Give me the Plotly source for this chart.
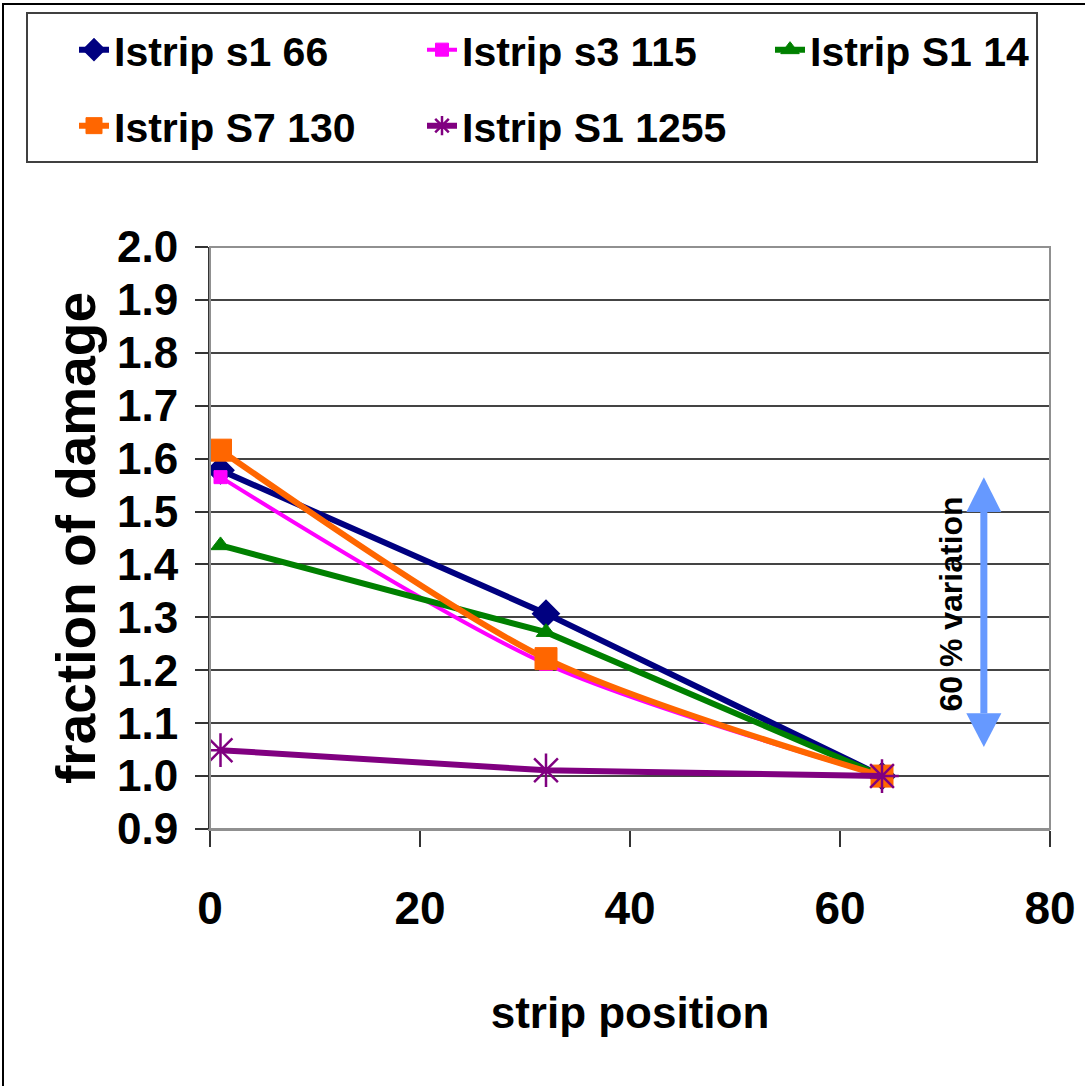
import plotly.graph_objects as go

# ---- data ----
x_pos = [1, 32, 64]
s1_66 = [1.578, 1.307, 1.0]
s3_115 = [1.565, 1.212, 1.0]
S1_14 = [1.436, 1.272, 1.0]
S7_130 = [1.616, 1.222, 1.0]
S1_1255 = [1.049, 1.011, 1.0]
names = ["Istrip s1 66", "Istrip s3 115", "Istrip S1 14", "Istrip S7 130", "Istrip S1 1255"]
y_ticks = [0.9, 1.0, 1.1, 1.2, 1.3, 1.4, 1.5, 1.6, 1.7, 1.8, 1.9, 2.0]
x_ticks = [0, 20, 40, 60, 80]

FONT = "Liberation Sans, Arial, sans-serif"

W, H = 1085, 1086
ML, MR, MT, MB = 210, 35, 247, 257
PW, PH = W - ML - MR, H - MT - MB


def px2paper(px, py):
    return (px - ML) / PW, (H - MB - py) / PH


fig = go.Figure()
styles = [
    (s1_66, "#000080", 6, "diamond", 20, "linear", 2, "legend"),
    (s3_115, "#FF00FF", 4, "square", 13, "spline", 1, "legend"),
    (S1_14, "#008000", 6, "triangle-up", 17, "linear", 1, "legend"),
    (S7_130, "#FF6600", 6, "square", 22, "spline", 1, "legend2"),
    (S1_1255, "#800080", 6, "asterisk-open", 28, "linear", 2.5, "legend2"),
]
for (ys, col, lw, sym, ms, shp, mlw, lg), nm in zip(styles, names):
    fig.add_trace(go.Scatter(
        x=x_pos, y=ys, name=f"<b>{nm}</b>", mode="lines+markers", legend=lg,
        line=dict(color=col, width=lw, shape=shp, smoothing=0.8),
        marker=dict(symbol=sym, size=ms, color=col, line=dict(color=col, width=mlw)),
    ))

shapes = []
# outer border (top and left visible)
x0, y0 = px2paper(3, 4)
x1, y1 = px2paper(1200, 1200)
shapes.append(dict(type="rect", xref="paper", yref="paper", x0=x0, y0=y1, x1=x1, y1=y0,
                   line=dict(color="black", width=2), layer="below"))
# legend box
lx0, ly0 = px2paper(27, 13)
lx1, ly1 = px2paper(1037, 162)
shapes.append(dict(type="rect", xref="paper", yref="paper", x0=lx0, y0=ly1, x1=lx1, y1=ly0,
                   line=dict(color="#404040", width=2)))
# plot area border (right/top gray)
shapes.append(dict(type="rect", xref="paper", yref="paper", x0=0, y0=0, x1=1, y1=1,
                   line=dict(color="#909090", width=2)))

# double arrow (light blue)
ax = 73.7
tip_top, base_top = 1.565, 1.499
tip_bot, base_bot = 1.055, 1.119
hw = 1.67
blue = "#6699FF"
shapes.append(dict(type="line", xref="x", yref="y", x0=ax, x1=ax, y0=base_bot, y1=base_top,
                   line=dict(color=blue, width=7)))
shapes.append(dict(type="path", xref="x", yref="y",
                   path=f"M{ax-hw},{base_top} L{ax+hw},{base_top} L{ax},{tip_top} Z",
                   fillcolor=blue, line=dict(color=blue, width=0)))
shapes.append(dict(type="path", xref="x", yref="y",
                   path=f"M{ax-hw},{base_bot} L{ax+hw},{base_bot} L{ax},{tip_bot} Z",
                   fillcolor=blue, line=dict(color=blue, width=0)))

leg_x = (74 - ML) / PW
common_leg = dict(
    orientation="h", x=leg_x, xanchor="left", yanchor="middle",
    font=dict(family=FONT, size=41, color="black"),
    entrywidth=303, entrywidthmode="pixels",
    bgcolor="rgba(0,0,0,0)", borderwidth=0, itemsizing="trace",
)

fig.update_layout(
    width=W, height=H,
    margin=dict(l=ML, r=MR, t=MT, b=MB, pad=0, autoexpand=False),
    paper_bgcolor="white", plot_bgcolor="white",
    shapes=shapes,
    showlegend=True,
    legend=dict(common_leg, y=(H - MB - 50) / PH),
    legend2=dict(common_leg, y=(H - MB - 126) / PH),
    annotations=[dict(
        x=70.57, y=1.326, xref="x", yref="y", text="<b>60 % variation</b>",
        textangle=-90, showarrow=False,
        font=dict(family=FONT, size=32, color="black"),
    )],
    xaxis=dict(
        range=[0, 80], tickvals=x_ticks, ticktext=[f"<b>{v}</b>" for v in x_ticks],
        showgrid=False, zeroline=False, showline=True, linecolor="#909090", linewidth=2,
        ticks="outside", ticklen=16, tickwidth=1.5, tickcolor="#333",
        tickfont=dict(family=FONT, size=46, color="black"),
        ticklabelstandoff=22,
        title=dict(text="<b>strip position</b>", font=dict(family=FONT, size=44, color="black"),
                   standoff=64),
    ),
    yaxis=dict(
        range=[0.9, 2.0], tickvals=y_ticks, ticktext=[f"<b>{v:.1f}</b>" for v in y_ticks],
        showgrid=True, gridcolor="#444", gridwidth=1.5,
        zeroline=False, showline=True, linecolor="#333", linewidth=2,
        ticks="outside", ticklen=13, tickwidth=1.5, tickcolor="#333",
        tickfont=dict(family=FONT, size=44, color="black"),
        ticklabelstandoff=8,
        title=dict(text="<b>fraction of damage</b>", font=dict(family=FONT, size=55, color="black"),
                   standoff=4),
    ),
)

fig.write_html("out.html")
